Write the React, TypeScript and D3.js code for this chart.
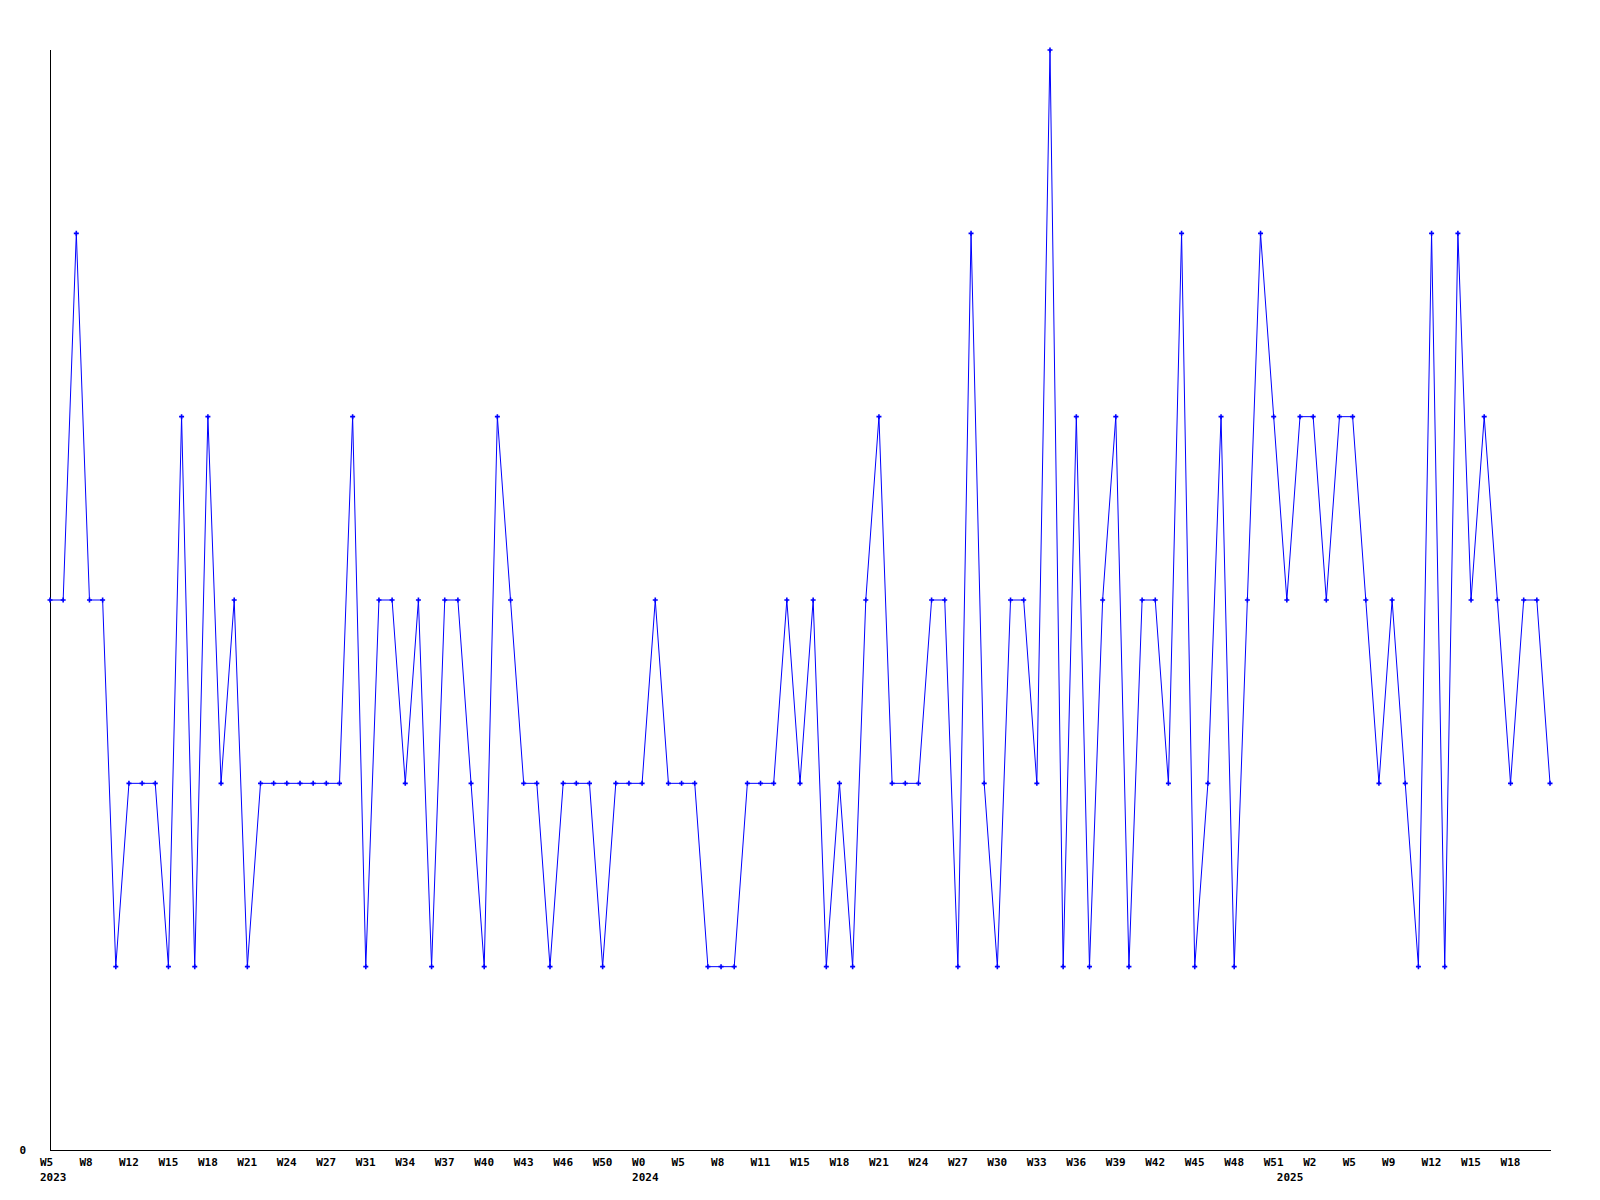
import React from "react";
import * as d3 from "d3";

const values: number[] = [
  3, 3, 5, 3, 3, 1, 2, 2, 2, 1, 4, 1, 4, 2, 3, 1, 2, 2, 2, 2, 2, 2, 2, 4, 1, 3, 3, 2, 3, 1,
  3, 3, 2, 1, 4, 3, 2, 2, 1, 2, 2, 2, 1, 2, 2, 2, 3, 2, 2, 2, 1, 1, 1, 2, 2, 2, 3, 2, 3, 1,
  2, 1, 3, 4, 2, 2, 2, 3, 3, 1, 5, 2, 1, 3, 3, 2, 6, 1, 4, 1, 3, 4, 1, 3, 3, 2, 5, 1, 2, 4,
  1, 3, 5, 4, 3, 4, 4, 3, 4, 4, 3, 2, 3, 2, 1, 5, 1, 5, 3, 4, 3, 2, 3, 3, 2,
];

const weekLabels: string[] = [
  "W5", "W8", "W12", "W15", "W18", "W21", "W24", "W27", "W31", "W34", "W37", "W40", "W43",
  "W46", "W50", "W0", "W5", "W8", "W11", "W15", "W18", "W21", "W24", "W27", "W30", "W33",
  "W36", "W39", "W42", "W45", "W48", "W51", "W2", "W5", "W9", "W12", "W15", "W18",
];
const labelStep = 3;

const yearLabels: string[] = ["2023", "2024", "2025"];
const yearIndex: number[] = [0, 45, 94];

export default function App() {
  const width = 1600;
  const height = 1200;
  const x = d3.scaleLinear().domain([0, values.length - 1]).range([50, 1550]);
  const y = d3.scaleLinear().domain([0, 6]).range([1150, 50]);
  const line = d3
    .line<number>()
    .x((_, i) => x(i))
    .y((d) => y(d));
  const font = "'DejaVu Sans Mono', monospace";
  return (
    <svg
      width={width}
      height={height}
      style={{ position: "absolute", left: 0, top: 0, background: "#fff" }}
    >
      <rect x={0} y={0} width={width} height={height} fill="#fff" />
      <line x1={50.5} x2={50.5} y1={50} y2={1151} stroke="#000" strokeWidth={1} />
      <line x1={50} x2={1551} y1={1150.5} y2={1150.5} stroke="#000" strokeWidth={1} />
      <text x={19.5} y={1154} fontFamily={font} fontSize={11} fontWeight="bold" fill="#000">
        0
      </text>
      {weekLabels.map((lab, k) => (
        <text
          key={"w" + k}
          x={x(k * labelStep) - 10}
          y={1166}
          fontFamily={font}
          fontSize={11}
          fontWeight="bold"
          fill="#000"
        >
          {lab}
        </text>
      ))}
      {yearLabels.map((lab, k) => (
        <text
          key={"y" + k}
          x={x(yearIndex[k]) - 10}
          y={1181}
          fontFamily={font}
          fontSize={11}
          fontWeight="bold"
          fill="#000"
        >
          {lab}
        </text>
      ))}
      <path d={line(values) || ""} fill="none" stroke="#0000ff" strokeWidth={1} />
      {values.map((v, i) => {
        const cx = x(i);
        const cy = y(v);
        return (
          <path
            key={"p" + i}
            d={`M${cx - 2.5},${cy} H${cx + 2.5} M${cx},${cy - 2.5} V${cy + 2.5}`}
            fill="none"
            stroke="#0000ff"
            strokeWidth={1.6}
          />
        );
      })}
    </svg>
  );
}
